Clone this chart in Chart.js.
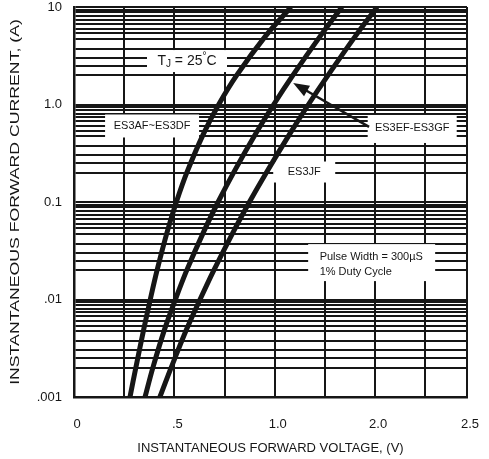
<!DOCTYPE html>
<html>
<head>
<meta charset="utf-8">
<script src="https://cdn.jsdelivr.net/npm/chart.js@4.4.0/dist/chart.umd.min.js"></script>
<style>
    html, body { margin: 0; padding: 0; background: #fff; }
    #wrap { width: 489px; height: 459px; }
</style>
</head>
<body>
<div id="wrap"><canvas id="ivChart" width="489" height="459"></canvas></div>
<script>
// forward current (A) at which each curve was read
const currents = [0.001, 0.002, 0.005, 0.01, 0.02, 0.05, 0.1, 0.2, 0.5, 1, 2, 5, 10];

// forward voltage (grid = 0.25 V per division)
const vfES3AtoD = [0.279, 0.308, 0.348, 0.380, 0.414, 0.465, 0.510, 0.562, 0.645, 0.721, 0.811, 0.953, 1.081];
const vfES3EtoG = [0.354, 0.393, 0.452, 0.505, 0.562, 0.647, 0.718, 0.795, 0.905, 0.995, 1.091, 1.226, 1.335];
const vfES3J = [0.428, 0.484, 0.562, 0.628, 0.697, 0.795, 0.874, 0.958, 1.075, 1.168, 1.266, 1.401, 1.510];

// x axis: the printed labels are not evenly spaced, keep them as printed
const xTickValues = [0, 0.5, 1.0, 1.5, 1.958];
const xTickLabels = ["0", ".5", "1.0", "2.0", "2.5"];
const xStep = 0.25;

// y axis: decade labels and the minor lines of the printed grid
const yDecades = [0.001, 0.01, 0.1, 1, 10];
const yTickLabels = [".001", ".01", "0.1", "1.0", "10"];
const yMinorSteps = [2, 2.5, 3, 3.75, 4.7, 5.4, 6, 6.7, 7.4, 8, 8.8, 9.4];

const FONT = "'Liberation Sans', Arial, Helvetica, sans-serif";
const INK = "#161616";
const Y_TITLE = "INSTANTANEOUS FORWARD CURRENT, (A)";

const xMax = xTickValues[xTickValues.length - 1];
const xTicks = [];
for (let v = 0; v < xMax - 0.01; v += xStep) xTicks.push(+v.toFixed(4));
xTicks.push(xMax);

const yTicks = [];
yDecades.forEach((d, i) => {
    yTicks.push(d);
    if (i < yDecades.length - 1) yMinorSteps.forEach((m) => yTicks.push(d * m));
});

function toPoints(vf) {
    return currents.map((c, i) => ({ x: vf[i], y: c }));
}

// text boxes that blank out the grid behind them
function whiteBox(ctx, cx, cy, w, h) {
    ctx.fillStyle = "#fff";
    ctx.fillRect(cx - w / 2, cy - h / 2, w, h);
}

const notes = {
    id: "notes",
    beforeDatasetsDraw(chart) {
        const { ctx } = chart;
        const x = chart.scales.x;
        const y = chart.scales.y;
        ctx.save();
        ctx.fillStyle = INK;
        ctx.textBaseline = "middle";

        // T_J = 25°C
        let cx = x.getPixelForValue(0.563);
        let cy = y.getPixelForValue(2.79);
        whiteBox(ctx, cx, cy, 80, 22);
        const parts = [
            { t: "T", size: 14, dy: 0 },
            { t: "J", size: 10, dy: 3 },
            { t: " = 25", size: 14, dy: 0 },
            { t: "°", size: 10, dy: -5 },
            { t: "C", size: 14, dy: 0 },
        ];
        let total = 0;
        parts.forEach((p) => {
            ctx.font = p.size + "px " + FONT;
            p.w = ctx.measureText(p.t).width;
            total += p.w;
        });
        let tx = cx - total / 2;
        ctx.textAlign = "left";
        parts.forEach((p) => {
            ctx.font = p.size + "px " + FONT;
            ctx.fillStyle = INK;
            ctx.fillText(p.t, tx, cy + p.dy);
            tx += p.w;
        });

        ctx.font = "11px " + FONT;
        ctx.textAlign = "center";

        // ES3AF~ES3DF
        cx = x.getPixelForValue(0.389);
        cy = y.getPixelForValue(0.602);
        whiteBox(ctx, cx, cy, 94, 23);
        ctx.fillStyle = INK;
        ctx.fillText("ES3AF~ES3DF", cx, cy);

        // ES3EF-ES3GF
        cx = x.getPixelForValue(1.685);
        cy = y.getPixelForValue(0.561);
        whiteBox(ctx, cx, cy, 89, 28);
        ctx.fillStyle = INK;
        ctx.fillText("ES3EF-ES3GF", cx, cy - 1);

        // ES3JF
        cx = x.getPixelForValue(1.147);
        cy = y.getPixelForValue(0.203);
        whiteBox(ctx, cx, cy, 62, 21);
        ctx.fillStyle = INK;
        ctx.fillText("ES3JF", cx, cy);

        // pulse conditions
        cx = x.getPixelForValue(1.483);
        cy = y.getPixelForValue(0.0239);
        whiteBox(ctx, cx, cy, 127, 37);
        ctx.fillStyle = INK;
        ctx.textAlign = "left";
        ctx.fillText("Pulse Width = 300\u00b5S", cx - 52, cy - 6);
        ctx.fillText("1% Duty Cycle", cx - 52, cy + 9);
        ctx.restore();
    },
    afterDatasetsDraw(chart) {
        const { ctx, chartArea } = chart;
        const x = chart.scales.x;
        const y = chart.scales.y;
        const x0 = x.getPixelForValue(1.47);
        const y0 = y.getPixelForValue(0.59);
        const x1 = x.getPixelForValue(1.092);
        const y1 = y.getPixelForValue(1.66);
        const ang = Math.atan2(y1 - y0, x1 - x0);
        ctx.save();
        ctx.strokeStyle = INK;
        ctx.fillStyle = INK;
        ctx.lineWidth = 2.5;
        ctx.beginPath();
        ctx.moveTo(x0, y0);
        ctx.lineTo(x1 - 12 * Math.cos(ang), y1 - 12 * Math.sin(ang));
        ctx.stroke();
        ctx.beginPath();
        ctx.moveTo(x1, y1);
        ctx.lineTo(x1 - 16 * Math.cos(ang) + 6 * Math.sin(ang), y1 - 16 * Math.sin(ang) - 6 * Math.cos(ang));
        ctx.lineTo(x1 - 16 * Math.cos(ang) - 6 * Math.sin(ang), y1 - 16 * Math.sin(ang) + 6 * Math.cos(ang));
        ctx.closePath();
        ctx.fill();

        // y title: the printed one is stretched along its length
        ctx.translate(15, (chartArea.top + chartArea.bottom) / 2);
        ctx.rotate(-Math.PI / 2);
        ctx.scale(1.36, 1);
        ctx.font = "13px " + FONT;
        ctx.textAlign = "center";
        ctx.textBaseline = "middle";
        ctx.fillText(Y_TITLE, 0, 0);
        ctx.restore();
    },
};

const curveStyle = {
    borderColor: INK,
    borderWidth: 5,
    pointRadius: 0,
    fill: false,
    tension: 0.35,
};

new Chart(document.getElementById("ivChart"), {
    type: "line",
    data: {
        datasets: [
            { label: "ES3AF~ES3DF", data: toPoints(vfES3AtoD), ...curveStyle },
            { label: "ES3EF-ES3GF", data: toPoints(vfES3EtoG), ...curveStyle },
            { label: "ES3JF", data: toPoints(vfES3J), ...curveStyle },
        ],
    },
    options: {
        responsive: false,
        animation: false,
        devicePixelRatio: 1,
        layout: { padding: { top: 7, right: 22, left: 0, bottom: 0 } },
        plugins: {
            legend: { display: false },
            tooltip: { enabled: false },
        },
        scales: {
            x: {
                type: "linear",
                min: 0,
                max: xMax,
                afterBuildTicks: (axis) => {
                    axis.ticks = xTicks.map((v) => ({ value: v }));
                },
                afterFit: (axis) => {
                    axis.height = 62;
                    axis.paddingLeft = 0;
                    axis.paddingRight = 0;
                },
                ticks: {
                    autoSkip: false,
                    maxRotation: 0,
                    padding: 20,
                    labelOffset: 3,
                    color: INK,
                    font: { family: FONT, size: 13 },
                    callback: (value) => {
                        const i = xTickValues.findIndex((t) => Math.abs(t - value) < 1e-6);
                        return i >= 0 ? xTickLabels[i] : "";
                    },
                },
                grid: {
                    drawTicks: false,
                    color: INK,
                    lineWidth: 2,
                },
                border: { color: INK, width: 2.5 },
                title: {
                    display: true,
                    text: "INSTANTANEOUS FORWARD VOLTAGE, (V)",
                    color: INK,
                    font: { family: FONT, size: 13 },
                    padding: { top: 0, bottom: 3 },
                },
            },
            y: {
                type: "logarithmic",
                min: 0.001,
                max: 10,
                afterBuildTicks: (axis) => {
                    axis.ticks = yTicks.map((v) => ({ value: v }));
                },
                afterFit: (axis) => {
                    axis.width = 74;
                    axis.paddingTop = 0;
                    axis.paddingBottom = 0;
                },
                ticks: {
                    autoSkip: false,
                    padding: 12,
                    color: INK,
                    font: { family: FONT, size: 13 },
                    callback: (value) => {
                        const i = yDecades.findIndex((d) => Math.abs(d - value) / d < 1e-6);
                        return i >= 0 ? yTickLabels[i] : "";
                    },
                },
                grid: {
                    drawTicks: false,
                    color: INK,
                    lineWidth: 2,
                },
                border: { color: INK, width: 2.5 },
                title: { display: false },
            },
        },
    },
    plugins: [notes],
});
</script>
</body>
</html>
